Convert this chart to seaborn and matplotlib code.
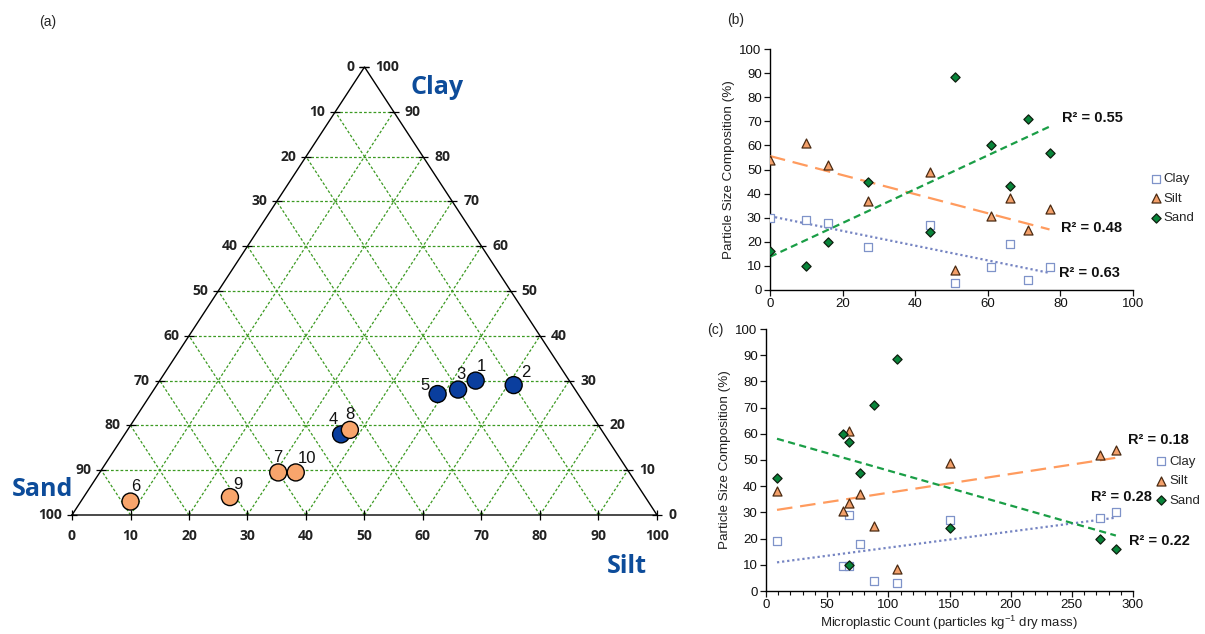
import numpy as np
import pandas as pd
import matplotlib.pyplot as plt
import seaborn as sns

sns.set_theme(style="ticks")
plt.rcParams['font.family'] = ['Liberation Sans', 'DejaVu Sans']
plt.rcParams['mathtext.default'] = 'regular'

# soil samples 1-10, particle size composition (%)
sample = [1, 2, 3, 4, 5, 6, 7, 8, 9, 10]
clay = [30, 29, 28, 18, 27, 3, 9.5, 19, 4, 9.5]
silt = [54, 61, 52, 37, 49, 8.5, 30.5, 38, 25, 33.5]
sand = [16, 10, 20, 45, 24, 88.5, 60, 43, 71, 57]
site_group = ['A', 'A', 'A', 'A', 'A', 'B', 'B', 'B', 'B', 'B']
# x variable of panel (b) (axis has no title in the figure)
b_x = [0, 10, 16, 27, 44, 51, 61, 66, 71, 77]
# microplastic count, particles per kg dry mass
mp_count = [286, 68, 273, 77, 150, 107, 63, 9, 88, 68]

tern_ticks = [0, 10, 20, 30, 40, 50, 60, 70, 80, 90, 100]
r2_b = {'Sand': 'R² = 0.55', 'Silt': 'R² = 0.48', 'Clay': 'R² = 0.63'}
r2_c = {'Silt': 'R² = 0.18', 'Clay': 'R² = 0.28', 'Sand': 'R² = 0.22'}

df = pd.DataFrame(dict(sample=sample, Clay=clay, Silt=silt, Sand=sand,
                       group=site_group, bx=b_x, count=mp_count))
long = df.melt(id_vars=['sample', 'bx', 'count'], value_vars=['Clay', 'Silt', 'Sand'],
               var_name='fraction', value_name='pct')

fig = plt.figure(figsize=(12.05, 6.34), dpi=100)

# ---------------- (a) ternary diagram ----------------
ax = fig.add_axes([72/1205, 119/634, 585/1205, 448/634])
ax.set_xlim(0, 100)
ax.set_ylim(0, 100)
ax.axis('off')

grn = '#3C9A22'
gl = dict(color=grn, lw=0.9, ls=(0, (2.2, 1.6)), zorder=1)
for k in tern_ticks[1:-1]:
    ax.plot([k/2, 100 - k/2], [k, k], **gl)            # constant clay
    ax.plot([k, k + (100 - k)/2], [0, 100 - k], **gl)  # constant silt
    ax.plot([100 - k, (100 - k)/2], [0, 100 - k], **gl)  # constant sand
ax.plot([0, 100, 50, 0], [0, 0, 100, 0], color='black', lw=1.0, zorder=2, clip_on=False)

tb = dict(family='Open Sans', fontweight='bold', fontsize=10, color='#222222')
for k in tern_ticks:
    # bottom: silt
    ax.plot([k], [0], marker='|', ms=7, color='black', mew=0.9, clip_on=False)
    ax.annotate(str(k), (k, 0), xytext=(0, -15), textcoords='offset points',
                ha='center', va='center', **tb)
    # left edge: sand
    ax.plot([k/2], [k], marker='_', ms=7, color='black', mew=0.9, clip_on=False)
    ax.annotate(str(100 - k), (k/2, k), xytext=(-7, 0), textcoords='offset points',
                ha='right', va='center', **tb)
    # right edge: clay
    ax.plot([100 - k/2], [k], marker='_', ms=7, color='black', mew=0.9, clip_on=False)
    ax.annotate(str(k), (100 - k/2, k), xytext=(8, 0), textcoords='offset points',
                ha='left', va='center', **tb)

df['tx'] = df['Silt'] + df['Clay'] / 2
df['ty'] = df['Clay']
sns.scatterplot(data=df, x='tx', y='ty', hue='group', ax=ax, s=150,
                palette={'A': '#0A3E9E', 'B': '#F8A56C'}, edgecolor='black',
                linewidth=1.0, legend=False, zorder=5, clip_on=False)
ax.set_xlabel('')
ax.set_ylabel('')
lab_off = {1: (4, 10), 2: (9, 9), 3: (2, 11), 4: (-6, 11), 5: (-9, 6),
           6: (4, 11), 7: (0, 11), 8: (0, 11), 9: (6, 9), 10: (8, 10)}
for _, r in df.iterrows():
    ax.annotate(str(int(r['sample'])), (r['tx'], r['ty']), xytext=lab_off[int(r['sample'])],
                textcoords='offset points', ha='center', va='center', fontsize=12,
                color='#111111', zorder=6)

blue = '#0D4C9A'
nb = dict(family='Open Sans', fontweight='bold', fontsize=18, color=blue,
          ha='center', va='center')
ax.text(62.4, 95.5, 'Clay', **nb)
ax.text(-5.0, 5.8, 'Sand', **nb)
ax.text(94.9, -11.6, 'Silt', **nb)

fig.text(48/1205, 1 - 22/634, '(a)', fontsize=10, ha='center', va='center')
fig.text(736/1205, 1 - 20/634, '(b)', fontsize=10, ha='center', va='center')
fig.text(715/1205, 1 - 330/634, '(c)', fontsize=10, ha='center', va='center')

# ---------------- (b) and (c) scatter panels ----------------
styles = {
    'Clay': dict(marker='s', face='white', edge='#7F93C9', s=34, line='#7584C2', ls=(0, (1, 1.3))),
    'Silt': dict(marker='^', face='#F3A06A', edge='#4A2A12', s=42, line='#FF9B5E', ls=(0, (7, 3.5))),
    'Sand': dict(marker='D', face='#08853A', edge='#0E1E0E', s=22, line='#1A9E46', ls=(0, (3.2, 2))),
}


def panel(axp, xcol, xlim, xticks, r2, r2pos, leg_anchor):
    for f, st in styles.items():
        sub = long[long['fraction'] == f]
        sns.regplot(data=sub, x=xcol, y='pct', ax=axp, scatter=False, ci=None, truncate=True,
                    line_kws=dict(color=st['line'], lw=1.6, ls=st['ls'], zorder=3))
        sns.scatterplot(data=sub, x=xcol, y='pct', ax=axp, marker=st['marker'], color=st['face'],
                        edgecolor=st['edge'], linewidth=0.9, s=st['s'], label=f, zorder=4,
                        legend=False)
    for f, (tx, ty) in r2pos.items():
        axp.text(tx, ty, r2[f], fontsize=10.5, fontweight='bold', ha='left', va='center',
                 color='#111111')
    axp.set_xlim(*xlim)
    axp.set_ylim(0, 100)
    axp.set_xticks(xticks)
    axp.set_yticks(range(0, 101, 10))
    axp.set_ylabel('Particle Size Composition (%)', fontsize=9.7, color='#222222', labelpad=3)
    axp.set_xlabel('')
    axp.tick_params(labelsize=9.5, length=4, width=0.9, direction='out', colors='#111111',
                    pad=2)
    for sp in ['top', 'right']:
        axp.spines[sp].set_visible(False)
    for sp in ['left', 'bottom']:
        axp.spines[sp].set_color('black')
        axp.spines[sp].set_linewidth(1.0)
    h, l = axp.get_legend_handles_labels()
    axp.legend(h, l, loc='center left', bbox_to_anchor=leg_anchor, frameon=False,
               fontsize=9.5, handletextpad=0.1, labelspacing=0.55, borderaxespad=0,
               handlelength=1.0)


axb = fig.add_axes([770/1205, 344/634, 363/1205, 241/634])
panel(axb, 'bx', (0, 100), range(0, 101, 20), r2_b,
      {'Sand': (80.4, 71.2), 'Silt': (80.1, 25.6), 'Clay': (79.7, 6.9)}, (1.03, 0.38))

axc = fig.add_axes([766/1205, 43/634, 367/1205, 262/634])
panel(axc, 'count', (0, 300), range(0, 301, 50), r2_c,
      {'Silt': (295.9, 57.8), 'Clay': (265.9, 36.0), 'Sand': (297.0, 19.1)}, (1.045, 0.42))
axc.set_xticks(range(0, 301, 10), minor=True)
axc.tick_params(which='minor', length=3, width=0.8, direction='out', colors='#111111')
axc.set_xlabel('Microplastic Count (particles kg$^{-1}$ dry mass)', fontsize=9.5,
               color='#222222', labelpad=2)

fig.savefig('out.png', dpi=100)
